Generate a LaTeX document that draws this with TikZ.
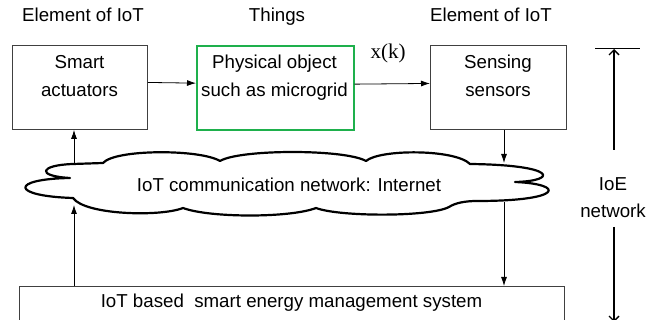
\documentclass[tikz,border=0pt]{standalone}
\usepackage{fontspec}
\setmainfont{Liberation Sans}
\newfontfamily\serifx{Liberation Serif}
\usetikzlibrary{arrows.meta}
\definecolor{boxgray}{RGB}{64,64,64}
\definecolor{objgreen}{RGB}{30,176,76}
\begin{document}
\begin{tikzpicture}[x=1pt,y=-1pt,
  lbl/.style={font=\fontsize{18.7}{22}\selectfont, inner sep=0pt, anchor=base},
  blk/.style={draw=boxgray, line width=0.9pt, inner sep=0pt, anchor=north west},
  arr/.style={-{Latex[length=9pt,width=6pt]}, line width=0.8pt},
  ioe/.style={-{Straight Barb[length=5pt,width=10pt]}, line width=1.4pt},
  cloudline/.style={line width=2.2pt, fill=white, line join=round}
]
\useasboundingbox (0,0) rectangle (648,320);
\clip (0,0) rectangle (648,320);

% boxes
\node[blk, minimum width=135pt, minimum height=84pt] (act) at (12,45) {};
\node[blk, draw=objgreen, line width=1.7pt, minimum width=157pt, minimum height=84pt] (obj) at (196,45.3) {};
\node[blk, minimum width=136pt, minimum height=84pt] (sen) at (430,45) {};
\node[blk, minimum width=545pt, minimum height=60pt] (ems) at (19,286) {};

% cloud
\draw[cloudline] (73,164)
 .. controls (40,165) and (35,176) .. (70,178)
 .. controls (10,179) and (10,196) .. (73,198)
 .. controls (85,215) and (160,217) .. (183,208)
 .. controls (210,218) and (290,218) .. (316,208)
 .. controls (340,217) and (430,217) .. (449,207)
 .. controls (455,203) and (465,201) .. (477,201)
 .. controls (565,201) and (565,184) .. (515,182)
 .. controls (558,181) and (558,165) .. (470,164)
 .. controls (455,149) and (380,149) .. (366,161)
 .. controls (345,149) and (240,149) .. (220,161)
 .. controls (200,149) and (115,149) .. (103,163)
 -- cycle;
\coordinate (cTL) at (74,163);
\coordinate (cBL) at (74,205);
\coordinate (cTR) at (504,163);
\coordinate (cBR) at (504,202);

% texts
\node[lbl] (h1) at (83,22) {Element of IoT};
\node[lbl] (h2) at (277,22) {Things};
\node[lbl] (h3) at (491,22) {Element of IoT};
\node[lbl] (a1) at (79.5,69) {Smart};
\node[lbl] (a2) at (79.5,97) {actuators};
\node[lbl] (o1) at (274.5,69) {Physical object};
\node[lbl] (o2) at (274.5,97) {such as microgrid};
\node[lbl] (s1) at (498,69) {Sensing};
\node[lbl] (s2) at (498,97) {sensors};
\node[lbl] (net) at (289,192) {IoT communication network: Internet};
\node[lbl] (emst) at (291.5,308) {IoT based\ \ smart energy management system};
\node[font=\serifx\fontsize{21}{24}\selectfont, inner sep=0pt, anchor=base] (xk) at (388,59) {x(k)};
\node[lbl] (ioe1) at (613,191) {IoE};
\node[lbl] (ioe2) at (613,218) {network};

% connectors
\draw[arr] ([yshift=5pt]act.east) -- ([yshift=5pt]obj.west);
\draw[arr] ([yshift=4pt]obj.east) -- ([yshift=4pt]sen.west);
\draw[arr] (sen.south -| cTR) -- (cTR);
\draw[arr] (cTL) -- (act.south -| cTL);
\draw[arr] (ems.north -| cBL) -- (cBL);
\draw[arr] (cBR) -- (ems.north -| cBR);

% IoE span
\coordinate (barL) at (595,49);
\coordinate (barR) at (640,49);
\coordinate (ioeA) at (614,150);
\coordinate (ioeB) at (614,227);
\coordinate (ioeEnd) at (614,322);
\draw[line width=1pt] (barL) -- (barR);
\draw[ioe] (ioeA) -- (barL -| ioeA);
\draw[ioe] (ioeB) -- (ioeEnd);
\end{tikzpicture}
\end{document}
